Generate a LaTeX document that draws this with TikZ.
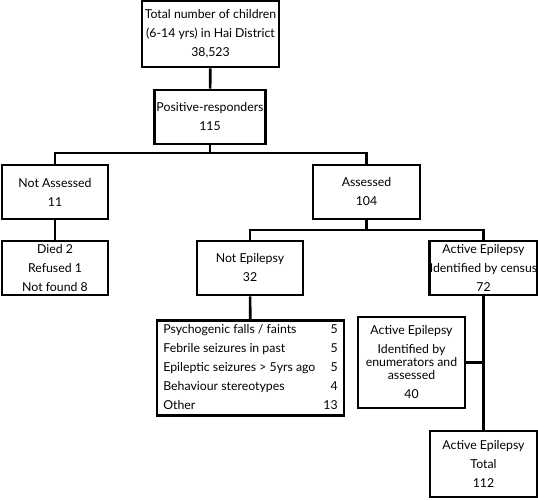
\documentclass[tikz,border=0pt]{standalone}
\usepackage{fontspec}
\setmainfont{Lato}
\usepackage{tikz}
\usetikzlibrary{positioning}

\begin{document}
\begin{tikzpicture}[x=1pt, y=-1pt,
  box/.style = {draw, line width=2.6pt, align=center, inner sep=0pt,
                font=\fontsize{12.3}{19}\selectfont},
  link/.style = {line width=2.6pt}]
 \useasboundingbox (0,0) rectangle (538,500);
 % boxes
 \node[box, minimum width=137, minimum height=66] (total) at (210.5,34)
   {Total number of children\\(6-14 yrs) in Hai District\\38,523};
 \node[box, minimum width=111, minimum height=54] (pos) at (210,117)
   {Positive-responders\\115};
 \node[box, minimum width=106, minimum height=54] (nass) at (55,192)
   {Not Assessed\\11};
 \node[box, minimum width=107, minimum height=54] (ass) at (366.5,192)
   {Assessed\\104};
 \node[box, minimum width=106, minimum height=54] (died) at (55,268)
   {Died 2\\Refused 1\\Not found 8};
 \node[box, minimum width=106, minimum height=54] (notep) at (250,268)
   {Not Epilepsy\\32};
 \node[box, minimum width=107, minimum height=54] (census) at (483.5,268)
   {Active Epilepsy\\Identified by census\\72};
 \node[box, minimum width=187, minimum height=94] (other) at (250.5,368)
   {\begin{tabular}{@{}l@{\hspace{8pt}}r@{}}
     Psychogenic falls / faints & 5\\
     Febrile seizures in past & 5\\
     Epileptic seizures > 5yrs ago & 5\\
     Behaviour stereotypes & 4\\
     Other & 13
   \end{tabular}};
 \node[box, minimum width=107, minimum height=91] (enum) at (411.5,362.5)
   {Active Epilepsy\\Identified by\\[-6pt]enumerators and\\[-6pt]assessed\\40};
 \node[box, minimum width=107, minimum height=66] (tot) at (483.5,464)
   {Active Epilepsy\\Total\\112};
 % connectors
 \coordinate (j1) at (210,153);
 \coordinate (j2) at (366.5,230);
 \draw[link] (total) -- (pos);
 \draw[link] (pos) -- (j1);
 \draw[link] (nass.north) |- (j1) -| (ass.north);
 \draw[link] (nass) -- (died);
 \draw[link] (ass) -- (j2);
 \draw[link] (notep.north) |- (j2) -| (census.north);
 \draw[link] (notep) -- (other);
 \draw[link] (census) -- (tot);
 \draw[link] (enum.east) -- (enum.east -| tot.north);
\end{tikzpicture}
\end{document}
